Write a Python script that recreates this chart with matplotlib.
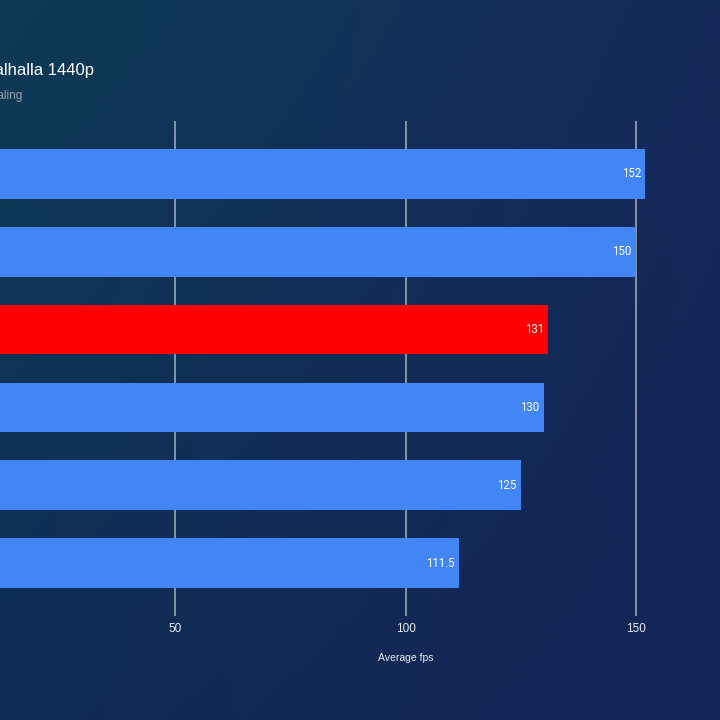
import numpy as np
import matplotlib
matplotlib.use("Agg")
import matplotlib.pyplot as plt

# Data (top to bottom)
values = [152, 150, 131, 130, 125, 111.5]
value_labels = ["152", "150", "131", "130", "125", "111.5"]
bar_colors = ["#4285f4", "#4285f4", "#ff0000", "#4285f4", "#4285f4", "#4285f4"]
xticks = [50, 100, 150]
title = "Assassin's Creed Valhalla 1440p"
subtitle = "No upscaling"
xlabel = "Average fps"

W = H = 720
fig = plt.figure(figsize=(7.2, 7.2), dpi=100)

# Background gradient
bg = fig.add_axes([0, 0, 1, 1], zorder=0)
bg.axis("off")
nx, ny = 200, 200
xx, yy = np.meshgrid(np.linspace(0, 1, nx), np.linspace(0, 1, ny))
tl = np.array([0x0d, 0x3a, 0x55]) / 255
tr = np.array([0x15, 0x2a, 0x5a]) / 255
bl = np.array([0x0f, 0x2d, 0x55]) / 255
br = np.array([0x16, 0x24, 0x58]) / 255
img = (tl[None, None, :] * ((1 - xx) * (1 - yy))[..., None]
       + tr[None, None, :] * (xx * (1 - yy))[..., None]
       + bl[None, None, :] * ((1 - xx) * yy)[..., None]
       + br[None, None, :] * (xx * yy)[..., None])
bg.imshow(img, extent=[0, 1, 0, 1], aspect="auto", origin="upper")
bg.set_xlim(0, 1)
bg.set_ylim(0, 1)

# Main axes (extends beyond the left/right edges: cropped chart)
px_per_unit = 230.5 / 50
x0_px = 175 - 50 * px_per_unit
x_right_px = x0_px + 200 * px_per_unit
top_px, bot_px = 121, 616
ax = fig.add_axes([x0_px / W, 1 - bot_px / H, (x_right_px - x0_px) / W, (bot_px - top_px) / H],
                  zorder=1)
ax.patch.set_alpha(0)
ypos = np.arange(len(values))
ax.barh(ypos, values, height=0.64, color=bar_colors, zorder=3)
ax.set_ylim(len(values) - 1 + 0.68, -0.68)
ax.set_xlim(0, 200)
ax.set_xticks(xticks)
ax.set_xticklabels([str(t) for t in xticks], color="#e8ecf2", fontsize=8.5,
                   family="Liberation Sans")
ax.tick_params(axis="x", length=0, pad=5)
ax.set_yticks([])
ax.grid(axis="x", color="#9aa6b8", linewidth=1.2, zorder=0)
for s in ax.spines.values():
    s.set_visible(False)
ax.set_xlabel(xlabel, color="#e8ecf2", fontsize=7.5, family="Liberation Sans", labelpad=13)

for y, v, lab in zip(ypos, values, value_labels):
    ax.text(v - 0.9, y, lab, ha="right", va="center", color="white", fontsize=8.3,
            family="Roboto", zorder=4)

# Title and subtitle (cut off at left)
fig.text(94 / W, 1 - 70 / H, title, ha="right", va="center", color="white", fontsize=12,
         family="Liberation Sans")
fig.text(22 / W, 1 - 96 / H, subtitle, ha="right", va="center", color="#9aa3b0", fontsize=8.5,
         family="Liberation Sans")

fig.savefig("out.png", dpi=100)
